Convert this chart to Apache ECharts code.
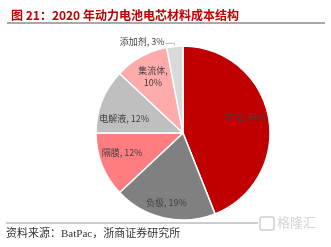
<!DOCTYPE html>
<html><head><meta charset="utf-8">
<script src="https://cdn.jsdelivr.net/npm/echarts@6/dist/echarts.min.js"></script>
<style>html,body{margin:0;padding:0;background:#fff}#c{width:331px;height:247px}</style>
</head><body><div id="c"></div>
<script>
const categories = ['正极', '负极', '隔膜', '电解液', '集流体', '添加剂'];
const values = [44, 19, 12, 12, 10, 3];
const colors = ['#C00000', '#808080', '#FF7C80', '#BFBFBF', '#FFABAB', '#D9D9D9'];
const titleText = '图 21：2020 年动力电池电芯材料成本结构';
const sourceText = '资料来源：BatPac，浙商证券研究所';

const chart = echarts.init(document.getElementById('c'), null, {renderer: 'canvas'});
const center = [183, 133];
const R = 87;
const font = '"Noto Sans CJK SC", sans-serif';

const pieData = categories.map((n, i) => ({name: n, value: values[i], itemStyle: {color: colors[i]}}));
const labelOffsets = {'正极': [-3, -3], '负极': [-2, 5], '隔膜': [1, -5], '电解液': [3, 10], '集流体': [2, 2]};
const labelData = categories.map((n, i) => {
  const d = {name: n, value: values[i], label: {}};
  if (labelOffsets[n]) d.label.offset = labelOffsets[n];
  if (n === '集流体') { d.label.formatter = '{b},\n{c}%'; d.label.lineHeight = 12; }
  if (n === '添加剂') {
    d.label.position = 'outside';
    d.label.offset = [4, -2];
    d.labelLine = {show: true, length: 3, length2: 9, lineStyle: {color: '#bbb', width: 1}};
  }
  return d;
});

chart.setOption({
  animation: false,
  title: {text: titleText, left: 6, top: 4, textStyle: {fontFamily: font, fontSize: 12, fontWeight: 'bold', color: '#C00000'}},
  graphic: [
    {type: 'line', shape: {x1: 7, y1: 23, x2: 325, y2: 23}, style: {stroke: '#8c8c8c', lineWidth: 1.5}},
    {type: 'line', shape: {x1: 6, y1: 223, x2: 258, y2: 223}, style: {stroke: '#9a9a9a', lineWidth: 1}},
    {type: 'text', left: 6, top: 229, style: {text: sourceText, fontFamily: '"Liberation Serif", "Noto Sans CJK SC", serif', fontSize: 11, fill: '#333'}},
    {type: 'rect', shape: {x: 260, y: 217, width: 14, height: 13, r: 2}, style: {fill: 'none', stroke: '#d0d0d0', lineWidth: 1.5}},
    {type: 'text', left: 277, top: 216, style: {text: '格隆汇', fontFamily: font, fontSize: 13, fill: '#d4d4d4'}}
  ],
  series: [
    {
      type: 'pie', center: center, radius: [0, R], startAngle: 90, clockwise: true,
      silent: true, label: {show: false}, labelLine: {show: false},
      itemStyle: {borderColor: '#fff', borderWidth: 1.5},
      data: pieData
    },
    {
      type: 'pie', center: center, radius: [40, R], startAngle: 90, clockwise: true,
      silent: true,
      itemStyle: {color: 'rgba(0,0,0,0)', borderWidth: 0},
      label: {show: true, position: 'inner', formatter: '{b}, {c}%', fontFamily: font, fontSize: 9, color: '#404040'},
      labelLine: {show: false},
      data: labelData
    }
  ]
});
</script></body></html>
